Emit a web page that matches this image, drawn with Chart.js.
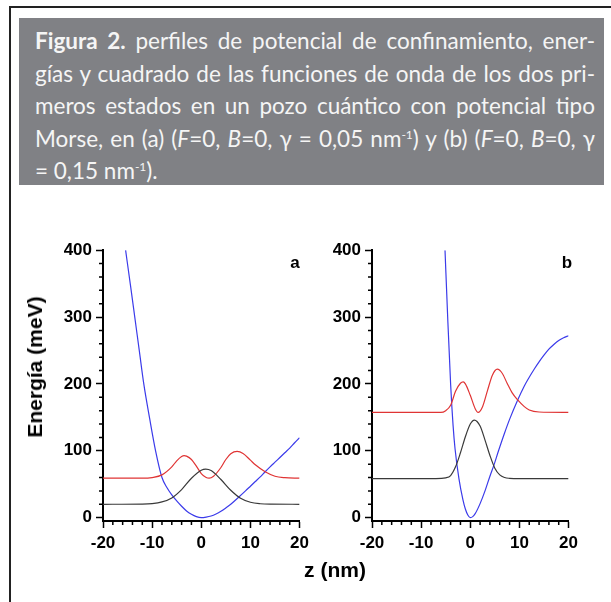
<!DOCTYPE html>
<html>
<head>
<meta charset="utf-8">
<script src="https://cdn.jsdelivr.net/npm/chart.js@4.4.0/dist/chart.umd.min.js"></script>
<style>
  body { margin: 0; width: 611px; height: 602px; background: #fff; position: relative; overflow: hidden; font-family: "Liberation Sans", Arial, sans-serif; }
  #frame { position: absolute; left: 9px; top: 6px; width: 640px; height: 640px; border-left: 2px solid #222; border-top: 2px solid #222; }
  #caption { position: absolute; left: 19px; top: 18px; width: 585px; height: 167px; background: #808185; color: #f5f5f5; font-family: Lato, "Open Sans", sans-serif; font-size: 22.5px; box-sizing: border-box; padding: 7px 9px 0 16px; }
  #caption div { height: 32.5px; line-height: 32.5px; text-align: justify; text-align-last: justify; white-space: nowrap; }
  #caption div.last { text-align-last: left; }
  #caption sup { font-size: 12px; vertical-align: 8px; line-height: 0; }
  .lbl { position: absolute; font-weight: bold; color: #000; white-space: nowrap; transform: translate(-50%, -50%); }
  canvas { position: absolute; }
</style>
</head>
<body>
<div id="frame"></div>
<div id="caption">
  <div><b>Figura 2.</b> perfiles de potencial de confinamiento, ener-</div>
  <div>gías y cuadrado de las funciones de onda de los dos pri-</div>
  <div>meros estados en un pozo cuántico con potencial tipo</div>
  <div>Morse, en (a) (<i>F</i>=0, <i>B</i>=0, γ = 0,05 nm<sup>-1</sup>) y (b) (<i>F</i>=0, <i>B</i>=0, γ</div>
  <div class="last">= 0,15 nm<sup>-1</sup>).</div>
</div>

<canvas id="chartA" width="294" height="325" style="left:20px; top:236px;"></canvas>
<canvas id="chartB" width="271" height="325" style="left:312px; top:236px;"></canvas>

<div class="lbl" style="left:35px; top:367px; font-size:21px; transform: translate(-50%, -50%) rotate(-90deg);">Energía (meV)</div>
<div class="lbl" style="left:335px; top:570px; font-size:21px;">z (nm)</div>
<div class="lbl" style="left:295px; top:263px; font-size:17px;">a</div>
<div class="lbl" style="left:567px; top:263px; font-size:17px;">b</div>

<script>
// ejes
const zTicks = [-20, -10, 0, 10, 20];
const zMinor = [-18, -16, -14, -12, -8, -6, -4, -2, 2, 4, 6, 8, 12, 14, 16, 18];
const eTicks = [0, 100, 200, 300, 400];
const eMinor = [20, 40, 60, 80, 120, 140, 160, 180, 220, 240, 260, 280, 320, 340, 360, 380];

// (a) gamma = 0,05 nm^-1
const zPotA = [-15.4, -14.4, -13.5, -12.6, -11.7, -10.5, -9.3, -8, -7, -6, -5, -4, -3, -2, -1, 0, 1, 2, 3, 4, 5, 6, 7.6, 9, 10, 11, 12, 13, 14, 15, 16, 17, 18, 19, 20];
const ePotA = [400, 347, 298, 249, 200, 148, 100, 60, 45, 34, 25, 17, 10, 5, 1.5, 0, 0.8, 2.5, 5.5, 9.5, 14.5, 20, 30.5, 40, 47, 54, 61, 68.7, 76, 83, 90, 97, 104, 112, 119.5];
const zGndA = [-20, -12, -10, -8, -6, -4, -2, 0, 0.9, 2, 4, 6, 8, 10, 12, 14, 20];
const eGndA = [20, 20.3, 21, 23.5, 29.5, 42, 59, 71, 72.7, 70.5, 57, 41, 29, 23, 20.8, 20.2, 20];
const zExcA = [-20, -12, -10, -8, -6, -5, -4, -3.5, -3, -2, -1, 0, 1, 1.6, 2.5, 4, 5, 6, 7.3, 8.5, 10, 11, 13, 15, 17, 20];
const eExcA = [59, 59, 60, 64, 76, 85, 91.5, 92.7, 92, 87, 77, 66, 60, 59, 62, 75, 87, 95.5, 99, 96, 86, 79, 68.7, 62, 59.8, 59];

// (b) gamma = 0,15 nm^-1
const zPotB = [-5.14, -4.6, -4, -3.5, -3.1, -2.3, -1.5, -1, -0.5, 0, 0.5, 1, 2, 3, 4, 4.74, 5.75, 7, 8, 9.65, 11, 12, 13, 14, 15, 16, 17, 18, 19, 20];
const ePotB = [400, 300, 200, 138, 103, 58, 27, 13, 4, 0, 1.5, 6, 21, 40, 62, 77, 100, 127, 147, 176, 197, 210, 222, 233, 243, 252, 259, 265, 269, 272];
const zGndB = [-20, -7, -5, -4, -3, -2, -1, 0, 0.84, 2, 3, 4, 5, 6, 7, 8, 10, 20];
const eGndB = [58.3, 58.3, 59.5, 63, 76, 97, 121, 140, 146, 137, 116, 93, 74, 64, 60, 58.8, 58.3, 58.3];
const zExcB = [-20, -6, -5, -4, -3, -2, -1.44, -1, 0, 1, 1.6, 2.5, 3.5, 4.5, 5.5, 6.5, 7.5, 8.5, 9.65, 11, 12, 14, 20];
const eExcB = [157.4, 157.4, 160, 168, 189, 201, 203, 200, 183, 163, 157.5, 166, 190, 213, 222, 216, 201, 187, 176, 166, 161, 158, 157.4];

const tickFont = { family: '"Liberation Sans", Arial, sans-serif', size: 17, weight: 'bold' };

function pts(zs, es) {
  return zs.map((z, i) => ({ x: z, y: es[i] }));
}

function serie(zs, es, color) {
  return {
    data: pts(zs, es),
    borderColor: color,
    borderWidth: 1.2,
    pointRadius: 0,
    fill: false,
    cubicInterpolationMode: 'monotone'
  };
}

// marcas menores del eje
const minorTicks = {
  id: 'minorTicks',
  afterDraw(chart) {
    const ctx = chart.ctx;
    const x = chart.scales.x, y = chart.scales.y;
    ctx.save();
    ctx.strokeStyle = '#000';
    ctx.lineWidth = 1.5;
    ctx.beginPath();
    zMinor.forEach(v => {
      const px = x.getPixelForValue(v);
      ctx.moveTo(px, x.top);
      ctx.lineTo(px, x.top + 4);
    });
    eMinor.forEach(v => {
      const py = y.getPixelForValue(v);
      ctx.moveTo(y.right, py);
      ctx.lineTo(y.right - 4, py);
    });
    ctx.stroke();
    ctx.restore();
  }
};

function makeChart(id, yWidth, pot, gnd, exc) {
  return new Chart(document.getElementById(id), {
    type: 'line',
    data: {
      datasets: [
        serie(gnd[0], gnd[1], '#3a3a3a'),
        serie(exc[0], exc[1], '#e03434'),
        serie(pot[0], pot[1], '#3b3bea')
      ]
    },
    options: {
      responsive: false,
      animation: false,
      events: [],
      layout: { padding: { left: 0, right: 12, top: 14, bottom: 0 } },
      plugins: { legend: { display: false }, tooltip: { enabled: false } },
      scales: {
        x: {
          type: 'linear',
          min: -20,
          max: 20,
          afterBuildTicks: s => { s.ticks = zTicks.map(v => ({ value: v })); },
          afterFit: s => { s.height = 40; },
          grid: { drawOnChartArea: false, tickLength: 7, tickWidth: 1.5, tickColor: '#000' },
          border: { display: true, color: '#000', width: 2 },
          ticks: { color: '#000', font: tickFont, padding: 5, maxRotation: 0 }
        },
        y: {
          type: 'linear',
          min: -5,
          max: 400,
          afterBuildTicks: s => { s.ticks = eTicks.map(v => ({ value: v })); },
          afterFit: s => { s.width = yWidth; },
          grid: { drawOnChartArea: false, tickLength: 7, tickWidth: 1.5, tickColor: '#000' },
          border: { display: true, color: '#000', width: 2 },
          ticks: { color: '#000', font: tickFont, padding: 4 }
        }
      }
    },
    plugins: [minorTicks]
  });
}

makeChart('chartA', 83, [zPotA, ePotA], [zGndA, eGndA], [zExcA, eExcA]);
makeChart('chartB', 60, [zPotB, ePotB], [zGndB, eGndB], [zExcB, eExcB]);
</script>
</body>
</html>
